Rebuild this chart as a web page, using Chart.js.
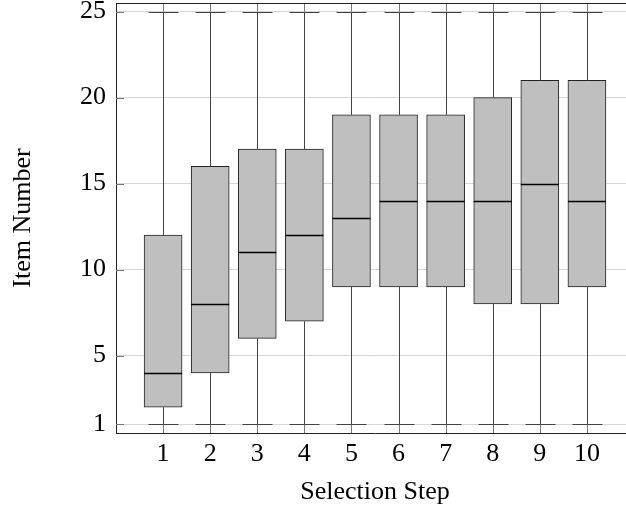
<!DOCTYPE html>
<html>
<head>
<meta charset="utf-8">
<script src="https://cdn.jsdelivr.net/npm/chart.js@4.4.1/dist/chart.umd.min.js"></script>
<style>
  html, body { margin: 0; padding: 0; background: #fff; overflow: hidden; }
  #wrap { width: 626px; height: 516px; overflow: hidden; }
</style>
</head>
<body>
<div id="wrap"><canvas id="boxChart" width="640" height="516"></canvas></div>
<script>
// Box plot: item number per selection step
const steps = [1, 2, 3, 4, 5, 6, 7, 8, 9, 10];
const whiskerLow = [1, 1, 1, 1, 1, 1, 1, 1, 1, 1];
const lowerQuartile = [2, 4, 6, 7, 9, 9, 9, 8, 8, 9];
const medians = [4, 8, 11, 12, 13, 14, 14, 14, 15, 14];
const upperQuartile = [12, 16, 17, 17, 19, 19, 19, 20, 21, 21];
const whiskerHigh = [25, 25, 25, 25, 25, 25, 25, 25, 25, 25];
const yTickValues = [1, 5, 10, 15, 20, 25];

const FONT = "'Liberation Serif', 'DejaVu Serif', serif";
const BOX_WIDTH = 38;
const CAP_WIDTH = 30;
const TICK_LEN = 8;

// whiskers, caps, medians, inner ticks and the top/right frame
const boxExtras = {
  id: 'boxExtras',
  afterDatasetsDraw(chart) {
    const { ctx, chartArea: a, scales: { x, y } } = chart;
    const px = v => Math.round(v) + 0.5;
    ctx.save();

    ctx.strokeStyle = '#444';
    ctx.lineWidth = 1;
    steps.forEach((s, i) => {
      const cx = px(x.getPixelForValue(s));
      const yLo = y.getPixelForValue(whiskerLow[i]);
      const yQ1 = y.getPixelForValue(lowerQuartile[i]);
      const yQ3 = y.getPixelForValue(upperQuartile[i]);
      const yHi = y.getPixelForValue(whiskerHigh[i]);
      ctx.beginPath();
      ctx.moveTo(cx, yLo); ctx.lineTo(cx, yQ1);
      ctx.moveTo(cx, yQ3); ctx.lineTo(cx, yHi);
      ctx.moveTo(cx - CAP_WIDTH / 2, px(yLo)); ctx.lineTo(cx + CAP_WIDTH / 2, px(yLo));
      ctx.moveTo(cx - CAP_WIDTH / 2, px(yHi)); ctx.lineTo(cx + CAP_WIDTH / 2, px(yHi));
      ctx.stroke();
    });

    ctx.strokeStyle = '#000';
    ctx.lineWidth = 1.3;
    steps.forEach((s, i) => {
      const cx = x.getPixelForValue(s);
      const ym = px(y.getPixelForValue(medians[i]));
      ctx.beginPath();
      ctx.moveTo(cx - BOX_WIDTH / 2, ym);
      ctx.lineTo(cx + BOX_WIDTH / 2, ym);
      ctx.stroke();
    });

    ctx.strokeStyle = '#777';
    ctx.lineWidth = 1;
    ctx.beginPath();
    yTickValues.forEach(v => {
      const yy = px(y.getPixelForValue(v));
      ctx.moveTo(a.left, yy); ctx.lineTo(a.left + TICK_LEN, yy);
      ctx.moveTo(a.right, yy); ctx.lineTo(a.right - TICK_LEN, yy);
    });
    steps.forEach(s => {
      const xx = px(x.getPixelForValue(s));
      ctx.moveTo(xx, a.bottom); ctx.lineTo(xx, a.bottom - TICK_LEN);
      ctx.moveTo(xx, a.top); ctx.lineTo(xx, a.top + TICK_LEN);
    });
    ctx.stroke();

    ctx.strokeStyle = '#222';
    ctx.beginPath();
    ctx.moveTo(a.left, px(a.top)); ctx.lineTo(a.right, px(a.top));
    ctx.moveTo(px(a.right), a.top); ctx.lineTo(px(a.right), a.bottom);
    ctx.stroke();
    ctx.restore();
  }
};

new Chart(document.getElementById('boxChart'), {
  type: 'bar',
  data: {
    datasets: [{
      data: steps.map((s, i) => ({ x: s, y: [lowerQuartile[i], upperQuartile[i]] })),
      backgroundColor: '#bfbfbf',
      borderColor: '#222',
      borderWidth: 1,
      borderSkipped: false,
      barThickness: BOX_WIDTH
    }]
  },
  options: {
    responsive: false,
    animation: false,
    layout: { padding: { top: 3, right: 6, left: 0, bottom: 0 } },
    plugins: { legend: { display: false }, tooltip: { enabled: false } },
    scales: {
      x: {
        type: 'linear',
        offset: false,
        min: 0,
        max: 11,
        afterBuildTicks: scale => { scale.ticks = steps.map(v => ({ value: v })); },
        afterFit: scale => {
          scale.height = 83;
          scale.paddingLeft = 0;
          scale.paddingRight = 0;
        },
        grid: { display: false, drawTicks: false },
        border: { display: true, color: '#222', width: 1 },
        ticks: { color: '#000', font: { family: FONT, size: 26 }, padding: 6, maxRotation: 0 },
        title: {
          display: true, text: 'Selection Step', color: '#000',
          font: { family: FONT, size: 26 }, padding: { top: 0, bottom: 8 }
        }
      },
      y: {
        min: 0.5,
        max: 25.5,
        afterBuildTicks: scale => { scale.ticks = yTickValues.map(v => ({ value: v })); },
        afterFit: scale => {
          scale.width = 116;
          scale.paddingTop = 0;
          scale.paddingBottom = 0;
        },
        grid: { color: '#d6d6d6', drawTicks: false },
        border: { display: true, color: '#222', width: 1 },
        ticks: { color: '#000', font: { family: FONT, size: 26 }, padding: 10 },
        title: {
          display: true, text: 'Item Number', color: '#000',
          font: { family: FONT, size: 26 }, padding: { top: 8, bottom: 0 }
        }
      }
    }
  },
  plugins: [boxExtras]
});
</script>
</body>
</html>
